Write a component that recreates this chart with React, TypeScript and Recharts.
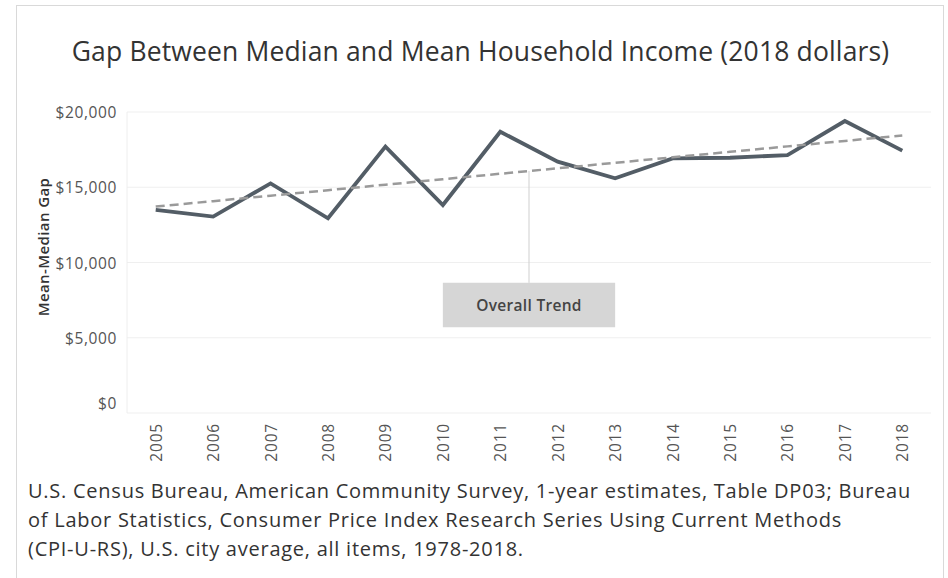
import React from "react";
import {
  LineChart,
  Line,
  XAxis,
  YAxis,
  CartesianGrid,
  ReferenceArea,
  ReferenceLine,
} from "recharts";

const years = [2005, 2006, 2007, 2008, 2009, 2010, 2011, 2012, 2013, 2014, 2015, 2016, 2017, 2018];
const gap = [13490, 13050, 15260, 12940, 17700, 13820, 18690, 16700, 15600, 16920, 16960, 17140, 19400, 17430];
const yTicks = [0, 5000, 10000, 15000, 20000];
const footerLines = [
  "U.S. Census Bureau, American Community Survey, 1-year estimates, Table DP03; Bureau",
  "of Labor Statistics, Consumer Price Index Research Series Using Current Methods",
  "(CPI-U-RS), U.S. city average, all items, 1978-2018.",
];

// least squares fit for the "Overall Trend" line
const n = years.length;
const mx = years.reduce((a, b) => a + b, 0) / n;
const my = gap.reduce((a, b) => a + b, 0) / n;
let sxy = 0;
let sxx = 0;
years.forEach((yr, i) => {
  sxy += (yr - mx) * (gap[i] - my);
  sxx += (yr - mx) * (yr - mx);
});
const slope = sxy / sxx;
const trendAt = (yr: number) => my + slope * (yr - mx);

const data = years.map((year, i) => ({ year, gap: gap[i], trend: trendAt(year) }));

const font = "'Open Sans', 'Noto Sans', sans-serif";
const fmt = (v: number) => "$" + v.toLocaleString("en-US");

const YTick = (props: any) => {
  const { x, y, payload } = props;
  const dy = payload.value === 0 ? -10 : 0;
  return (
    <text
      x={x}
      y={y + dy}
      textAnchor="end"
      dominantBaseline="central"
      fontSize={15.5}
      letterSpacing={0.6}
      fill="#555"
      fontFamily={font}
    >
      {fmt(payload.value)}
    </text>
  );
};

const XTick = (props: any) => {
  const { x, payload } = props;
  const y = 423;
  return (
    <text
      x={x}
      y={y}
      transform={`rotate(-90 ${x} ${y})`}
      textAnchor="end"
      dominantBaseline="central"
      fontSize={15.5}
      letterSpacing={0.8}
      fill="#555"
      fontFamily={font}
    >
      {payload.value}
    </text>
  );
};

const App = () => {
  return (
    <div style={{ position: "absolute", left: 0, top: 0, width: 948, height: 578, background: "#fff", fontFamily: font }}>
      <div
        style={{
          position: "absolute",
          left: 16,
          top: 5,
          width: 926,
          height: 580,
          borderLeft: "1px solid #d9d9d9",
          borderTop: "1px solid #d9d9d9",
          borderRight: "1px solid #d9d9d9",
        }}
      />
      <div
        style={{
          position: "absolute",
          left: 0,
          top: 34,
          width: 961,
          textAlign: "center",
          fontSize: 26.5,
          letterSpacing: 0.15,
          lineHeight: "34px",
          color: "#333",
          whiteSpace: "nowrap",
        }}
      >
        Gap Between Median and Mean Household Income (2018 dollars)
      </div>
      <div style={{ position: "absolute", left: 0, top: 0 }}>
        <LineChart
          width={948}
          height={470}
          data={data}
          margin={{ top: 112, right: 17, bottom: 7, left: 0 }}
        >
          <CartesianGrid horizontal vertical={false} stroke="#efefef" />
          <XAxis
            dataKey="year"
            type="number"
            domain={[2004.5, 2018.5]}
            ticks={years}
            interval={0}
            height={50}
            axisLine={false}
            tickLine={false}
            tick={<XTick />}
          />
          <YAxis
            domain={[0, 20000]}
            ticks={yTicks}
            width={127}
            axisLine={{ stroke: "#eeeeee" }}
            tickLine={false}
            tickMargin={4}
            tick={<YTick />}
            label={{
              content: () => (
                <text
                  x={43}
                  y={247}
                  transform="rotate(-90 43 247)"
                  textAnchor="middle"
                  dominantBaseline="central"
                  fontSize={15}
                  letterSpacing={0.4}
                  fontWeight={600}
                  fill="#333"
                  fontFamily={font}
                >
                  Mean-Median Gap
                </text>
              ),
            }}
          />
          <ReferenceLine
            segment={[
              { x: 2011.5, y: trendAt(2011.5) },
              { x: 2011.5, y: 8650 },
            ]}
            stroke="#cfcfcf"
            strokeWidth={1}
          />
          <ReferenceArea
            x1={2010}
            x2={2013}
            y1={5700}
            y2={8650}
            fill="#d6d6d6"
            fillOpacity={1}
            stroke="none"
            label={{
              value: "Overall Trend",
              position: "center",
              fontSize: 15.5,
              fontWeight: 600,
              letterSpacing: 0.3,
              fill: "#444",
              fontFamily: font,
            }}
          />
          <Line
            type="linear"
            dataKey="gap"
            stroke="#535d66"
            strokeWidth={3.8}
            dot={false}
            isAnimationActive={false}
          />
          <Line
            type="linear"
            dataKey="trend"
            stroke="#9a9a9a"
            strokeWidth={2.5}
            strokeDasharray="9 5"
            dot={false}
            isAnimationActive={false}
          />
        </LineChart>
      </div>
      <div
        style={{
          position: "absolute",
          left: 28,
          top: 476,
          fontSize: 20,
          letterSpacing: 0.75,
          lineHeight: "29px",
          color: "#333",
          whiteSpace: "nowrap",
        }}
      >
        {footerLines.map((l) => (
          <div key={l}>{l}</div>
        ))}
      </div>
    </div>
  );
};

export default App;
